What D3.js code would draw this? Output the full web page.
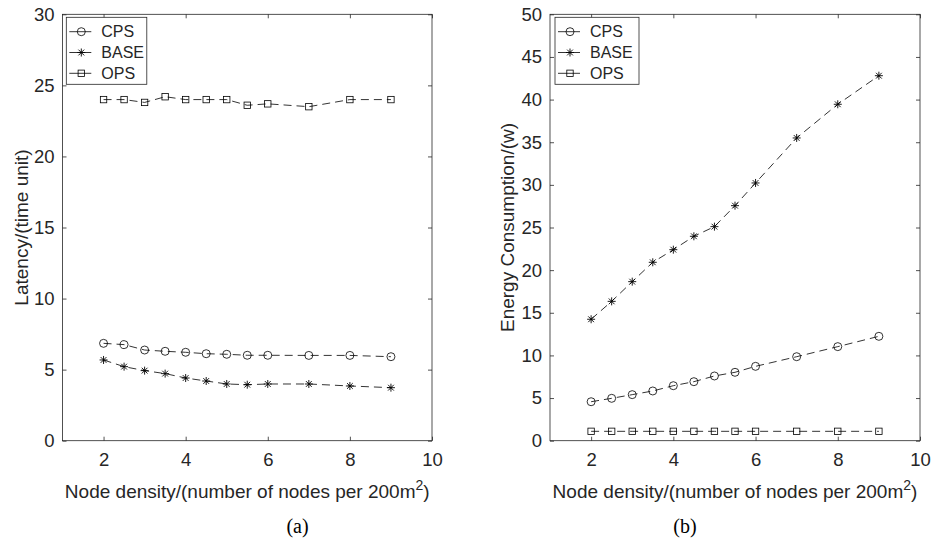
<!DOCTYPE html>
<html>
<head>
<meta charset="UTF-8">
<title>Latency and energy</title>
<script src="https://d3js.org/d3.v7.min.js"></script>
<style>
  * { margin: 0; padding: 0; box-sizing: border-box; }
  body { background: #fff; font-family: "Liberation Sans", Arial, sans-serif; }
</style>
</head>
<body>
<div id="chart"></div>
<script>
const density = [2, 2.5, 3, 3.5, 4, 4.5, 5, 5.5, 6, 7, 8, 9];
const seriesNames = ["CPS", "BASE", "OPS"];

const latencyCPS  = [6.85, 6.76, 6.38, 6.29, 6.22, 6.12, 6.08, 6.01, 6.01, 6.0, 6.0, 5.91];
const latencyBASE = [5.68, 5.21, 4.93, 4.72, 4.41, 4.2, 3.99, 3.94, 3.99, 3.99, 3.85, 3.73];
const latencyOPS  = [24.0, 24.0, 23.8, 24.2, 24.0, 24.0, 24.0, 23.6, 23.7, 23.5, 24.0, 24.0];

const energyCPS  = [4.57, 4.97, 5.4, 5.83, 6.45, 6.92, 7.59, 8.02, 8.72, 9.85, 11.03, 12.24];
const energyBASE = [14.24, 16.34, 18.65, 20.92, 22.4, 23.97, 25.1, 27.56, 30.22, 35.5, 39.45, 42.8];
const energyOPS  = [1.1, 1.1, 1.1, 1.1, 1.1, 1.1, 1.1, 1.1, 1.1, 1.1, 1.1, 1.1];

const xTicks = [2, 4, 6, 8, 10];
const latencyTicks = [0, 5, 10, 15, 20, 25, 30];
const energyTicks = [0, 5, 10, 15, 20, 25, 30, 35, 40, 45, 50];

const W = 931, H = 542;
const axisColor = "#262626";
const sans = "'Liberation Sans', Arial, sans-serif";

const svg = d3.select("#chart").append("svg")
  .attr("width", W).attr("height", H)
  .style("background", "#fff");

// MATLAB-like markers: o, *, s
function drawMarker(g, type, x, y) {
  if (type === "CPS") {
    g.append("circle").attr("cx", x).attr("cy", y).attr("r", 4)
      .attr("fill", "none").attr("stroke", "#000").attr("stroke-width", 0.8);
  } else if (type === "OPS") {
    g.append("rect").attr("x", x - 3.2).attr("y", y - 3.2)
      .attr("width", 6.4).attr("height", 6.4)
      .attr("fill", "none").attr("stroke", "#000").attr("stroke-width", 0.8);
  } else {
    const r = 4;
    const d = r * 0.72;
    g.append("path")
      .attr("d", `M${x - r},${y}L${x + r},${y}M${x},${y - r}L${x},${y + r}` +
                 `M${x - d},${y - d}L${x + d},${y + d}M${x - d},${y + d}L${x + d},${y - d}`)
      .attr("stroke", "#000").attr("stroke-width", 0.9);
  }
}

function drawPanel(p) {
  const x = d3.scaleLinear().domain([1, 10]).range([p.left, p.right]);
  const y = d3.scaleLinear().domain([0, p.yMax]).range([p.bottom, p.top]);
  const g = svg.append("g");

  // box
  g.append("rect")
    .attr("x", p.left).attr("y", p.top)
    .attr("width", p.right - p.left).attr("height", p.bottom - p.top)
    .attr("fill", "none").attr("stroke", axisColor).attr("stroke-width", 0.8);

  // axes, ticks pointing inward
  const bottomAx = g.append("g")
    .attr("transform", `translate(0,${p.bottom})`)
    .call(d3.axisBottom(x).tickValues(xTicks).tickSizeInner(-4).tickSizeOuter(0).tickPadding(12.5));
  const topAx = g.append("g")
    .attr("transform", `translate(0,${p.top})`)
    .call(d3.axisTop(x).tickValues(xTicks).tickSizeInner(-4).tickSizeOuter(0).tickFormat(""));
  const leftAx = g.append("g")
    .attr("transform", `translate(${p.left},0)`)
    .call(d3.axisLeft(y).tickValues(p.yTicks).tickSizeInner(-4).tickSizeOuter(0).tickPadding(8));
  const rightAx = g.append("g")
    .attr("transform", `translate(${p.right},0)`)
    .call(d3.axisRight(y).tickValues(p.yTicks).tickSizeInner(-4).tickSizeOuter(0).tickFormat(""));

  [bottomAx, topAx, leftAx, rightAx].forEach(a => {
    a.select(".domain").remove();
    a.selectAll("line").attr("stroke", axisColor).attr("stroke-width", 0.8);
    a.selectAll("text")
      .attr("fill", axisColor)
      .style("font-family", sans)
      .style("font-size", "18.5px");
  });

  // series
  const line = d3.line().x((d, i) => x(density[i])).y(d => y(d));
  p.series.forEach((vals, k) => {
    g.append("path")
      .datum(vals)
      .attr("d", line)
      .attr("fill", "none")
      .attr("stroke", "#000")
      .attr("stroke-width", 0.8)
      .attr("stroke-dasharray", "8,5");
    vals.forEach((v, i) => drawMarker(g, seriesNames[k], x(density[i]), y(v)));
  });

  // legend
  const lg = g.append("g").attr("transform", `translate(${p.left + p.legendDx},${p.top + 3})`);
  lg.append("rect")
    .attr("width", p.legendW).attr("height", 67)
    .attr("fill", "#fff").attr("stroke", axisColor).attr("stroke-width", 0.8);
  seriesNames.forEach((name, i) => {
    const cy = 14.4 + i * 20.8;
    lg.append("line")
      .attr("x1", 3).attr("x2", 25).attr("y1", cy).attr("y2", cy)
      .attr("stroke", "#000").attr("stroke-width", 0.8);
    drawMarker(lg, name, 15, cy);
    lg.append("text")
      .attr("x", 35).attr("y", cy + 5.8)
      .attr("fill", axisColor)
      .style("font-family", sans)
      .style("font-size", "16px")
      .text(name);
  });

  // x label
  const xl = g.append("text")
    .attr("x", (p.left + p.right) / 2)
    .attr("y", 498.3)
    .attr("text-anchor", "middle")
    .attr("fill", axisColor)
    .style("font-family", sans)
    .style("font-size", "19px");
  xl.append("tspan").text("Node density/(number of nodes per 200m");
  xl.append("tspan").attr("dy", -8).style("font-size", "14px").text("2");
  xl.append("tspan").attr("dy", 8).text(")");

  // y label
  g.append("text")
    .attr("transform", `translate(${p.left - p.yLabelDx},${(p.top + p.bottom) / 2}) rotate(-90)`)
    .attr("text-anchor", "middle")
    .attr("fill", axisColor)
    .style("font-family", sans)
    .style("font-size", "19px")
    .text(p.yLabel);

  // panel caption
  g.append("text")
    .attr("x", p.captionX).attr("y", 533)
    .attr("text-anchor", "middle")
    .attr("fill", "#000")
    .style("font-family", "'Liberation Serif', 'Times New Roman', serif")
    .style("font-size", "20px")
    .text(p.caption);
}

drawPanel({
  left: 62.5, right: 432, top: 14.3, bottom: 440.7,
  yMax: 30, yTicks: latencyTicks,
  series: [latencyCPS, latencyBASE, latencyOPS],
  legendDx: 3.8, legendW: 80.5, yLabel: "Latency/(time unit)", yLabelDx: 34.5,
  caption: "(a)", captionX: 297.5
});

drawPanel({
  left: 550, right: 920, top: 14.3, bottom: 440.7,
  yMax: 50, yTicks: energyTicks,
  series: [energyCPS, energyBASE, energyOPS],
  legendDx: 5, legendW: 84, yLabel: "Energy Consumption/(w)", yLabelDx: 36,
  caption: "(b)", captionX: 685
});
</script>
</body>
</html>
